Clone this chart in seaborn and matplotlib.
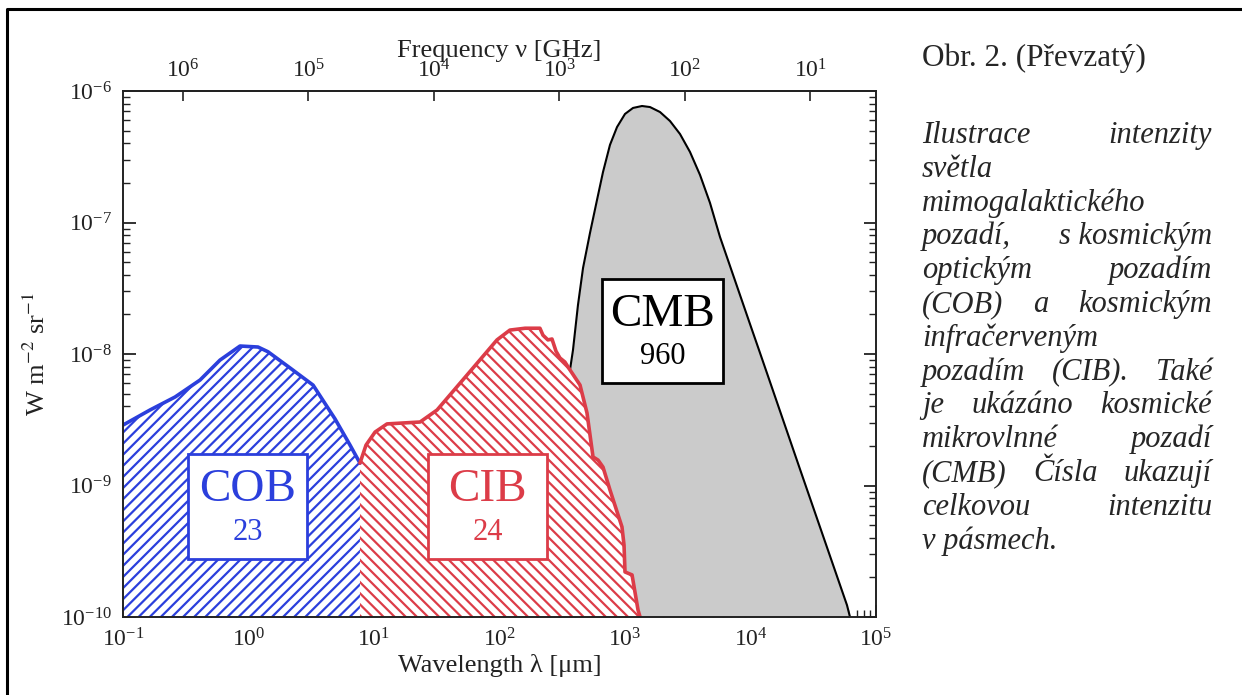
import numpy as np
import pandas as pd
import matplotlib
matplotlib.use("Agg")
import matplotlib.pyplot as plt
import seaborn as sns
from matplotlib.patches import Rectangle
from matplotlib.lines import Line2D
from matplotlib.ticker import NullLocator, LogLocator, FixedLocator

# ---------------- data ----------------
cob_wavelength = [0.1, 0.164, 0.26, 0.411, 0.593, 0.856, 1.19, 1.43, 2.14, 3.27, 4.89, 6.44, 7.73]
cob_intensity = [2.88e-9, 3.75e-9, 4.71e-9, 6.34e-9, 8.99e-9, 1.15e-8, 1.13e-8, 1.04e-8,
                 7.84e-9, 5.80e-9, 3.21e-9, 2.03e-9, 1.48e-9]

cib_wavelength = [7.73, 8.64, 10.2, 12.7, 23.3, 31.8, 55.1, 95.5, 121, 160, 210, 222, 243,
                  262, 282, 303, 332, 365, 438, 498, 556, 610, 668, 759, 946, 982, 1000,
                  1138, 1270, 1318]
cib_intensity = [1.48e-9, 2.03e-9, 2.55e-9, 2.94e-9, 3.04e-9, 3.75e-9, 6.92e-9, 1.28e-8,
                 1.52e-8, 1.57e-8, 1.57e-8, 1.39e-8, 1.28e-8, 1.30e-8, 1.05e-8, 9.33e-9,
                 8.69e-9, 7.55e-9, 5.81e-9, 3.56e-9, 1.65e-9, 1.56e-9, 1.38e-9, 9.25e-10,
                 4.84e-10, 3.53e-10, 2.2e-10, 2.09e-10, 1.13e-10, 1.0e-10]

cmb_wavelength = [245, 270, 300, 330, 360, 385, 422, 463, 526, 598, 668, 759, 864, 1000,
                  1158, 1366, 1582, 1901, 2284, 2743, 3295, 3960, 4756, 5715, 6866, 8248,
                  9909, 11904, 14305, 24798, 42998, 58739, 62056]
cmb_intensity = [1.0e-10, 4.0e-10, 1.4e-9, 3.5e-9, 7.0e-9, 1.07e-8, 2.36e-8, 4.51e-8,
                 8.32e-8, 1.48e-7, 2.42e-7, 3.89e-7, 5.32e-7, 6.69e-7, 7.43e-7, 7.69e-7,
                 7.55e-7, 6.92e-7, 5.91e-7, 4.71e-7, 3.44e-7, 2.30e-7, 1.41e-7, 7.76e-8,
                 4.67e-8, 2.81e-8, 1.69e-8, 1.02e-8, 6.13e-9, 1.33e-9, 2.91e-10,
                 1.23e-10, 1.0e-10]

band_names = ["COB", "CIB", "CMB"]
band_totals = ["23", "24", "960"]

wavelength_ticks = [1e-1, 1e0, 1e1, 1e2, 1e3, 1e4, 1e5]
intensity_ticks = [1e-10, 1e-9, 1e-8, 1e-7, 1e-6]
freq_ticks = [1e1, 1e2, 1e3, 1e4, 1e5, 1e6]

caption_title = "Obr. 2. (Převzatý)"
caption_lines = [
    (["Ilustrace", "intenzity"], True),
    (["světla"], False),
    (["mimogalaktického"], False),
    (["pozadí,", "s\u00a0kosmickým"], True),
    (["optickým", "pozadím"], True),
    (["(COB)", "a", "kosmickým"], True),
    (["infračerveným"], False),
    (["pozadím", "(CIB).", "Také"], True),
    (["je", "ukázáno", "kosmické"], True),
    (["mikrovlnné", "pozadí"], True),
    (["(CMB)", "Čísla", "ukazují"], True),
    (["celkovou", "intenzitu"], True),
    (["v\u00a0pásmech."], False),
]

# ---------------- style ----------------
sns.set_style("ticks")
plt.rcParams["font.family"] = ["Liberation Serif", "DejaVu Serif"]
plt.rcParams["mathtext.fontset"] = "stix"
plt.rcParams["hatch.linewidth"] = 1.6

BLUE = "#2b3fdc"
RED = "#dc3c48"
GRAY = "#cbcbcb"
INK = "#222222"

W, H = 1242, 695
fig = plt.figure(figsize=(W / 100, H / 100), dpi=100)
ax = fig.add_axes([123 / W, 1 - 617 / H, 753 / W, 526 / H])
ax.set_xscale("log")
ax.set_yscale("log")
ax.set_xlim(1e-1, 1e5)
ax.set_ylim(1e-10, 1e-6)

df_cob = pd.DataFrame({"lam": cob_wavelength, "I": cob_intensity})
df_cib = pd.DataFrame({"lam": cib_wavelength, "I": cib_intensity})
df_cmb = pd.DataFrame({"lam": cmb_wavelength, "I": cmb_intensity})

# CMB: grey filled
ax.fill_between(df_cmb["lam"], df_cmb["I"], 1e-10, facecolor=GRAY, lw=0, zorder=1)
sns.lineplot(data=df_cmb, x="lam", y="I", color="black", lw=1.5, ax=ax, zorder=2)

# COB: blue hatch
ax.fill_between(df_cob["lam"], df_cob["I"], 1e-10, facecolor="white", edgecolor=BLUE,
                hatch="///", lw=0, zorder=3)
sns.lineplot(data=df_cob, x="lam", y="I", color=BLUE, lw=2.6, ax=ax, zorder=4)

# CIB: red hatch
ax.fill_between(df_cib["lam"], df_cib["I"], 1e-10, facecolor="white", edgecolor=RED,
                hatch="\\\\\\", lw=0, zorder=3)
sns.lineplot(data=df_cib, x="lam", y="I", color=RED, lw=2.6, ax=ax, zorder=4)

ax.set_xlim(1e-1, 1e5)
ax.set_ylim(1e-10, 1e-6)

# boxes with labels
boxes = [
    ((188 - 123) / 753, (617 - 559) / 526, 119 / 753, 105 / 526, BLUE),
    ((428 - 123) / 753, (617 - 559) / 526, 119 / 753, 105 / 526, RED),
    ((602 - 123) / 753, (617 - 383) / 526, 121 / 753, 104 / 526, "black"),
]
for (x0, y0, bw, bh, col), name, tot in zip(boxes, band_names, band_totals):
    ax.add_patch(Rectangle((x0, y0), bw, bh, transform=ax.transAxes, facecolor="white",
                           edgecolor=col, lw=2.0, zorder=6))
    ax.text(x0 + bw / 2, y0 + bh * 0.66, name, transform=ax.transAxes, ha="center",
            va="center", fontsize=34, color=col, zorder=7)
    ax.text(x0 + bw / 2, y0 + bh * 0.25, tot, transform=ax.transAxes, ha="center",
            va="center", fontsize=22, color=col, zorder=7)

# axes cosmetics
for s in ax.spines.values():
    s.set_linewidth(1.4)
    s.set_color(INK)
    s.set_zorder(10)
ax.xaxis.set_major_locator(FixedLocator(wavelength_ticks))
ax.yaxis.set_major_locator(FixedLocator(intensity_ticks))
ax.yaxis.set_minor_locator(LogLocator(base=10, subs=np.arange(2, 10), numticks=20))
ax.xaxis.set_minor_locator(LogLocator(base=10, subs=np.arange(2, 10), numticks=20))
ax.tick_params(which="both", direction="in", top=False, right=True, labelsize=17,
               colors=INK)
ax.tick_params(which="major", length=9, width=1.3, pad=8)
ax.tick_params(which="minor", length=5, width=1.0, labelbottom=False, labelleft=False)
ax.set_xlabel("Wavelength λ [μm]", fontsize=19, labelpad=2, color=INK)
ax.set_ylabel("W m$^{-2}$ sr$^{-1}$", fontsize=19, labelpad=8, color=INK)


def lam2nu(x):
    x = np.asarray(x, dtype=float)
    with np.errstate(divide="ignore", invalid="ignore"):
        return 3e5 / x


secax = ax.secondary_xaxis("top", functions=(lam2nu, lam2nu))
secax.xaxis.set_major_locator(FixedLocator(freq_ticks))
secax.xaxis.set_minor_locator(NullLocator())
secax.tick_params(which="major", direction="in", length=7, width=1.2, labelsize=17,
                  colors=INK, pad=6)
secax.spines["top"].set_linewidth(1.4)
secax.set_xlabel("Frequency ν [GHz]", fontsize=19, labelpad=2, color=INK)

# outer frame (cropped border)
fig.add_artist(Line2D([7 / W, 7 / W, 1.0], [0.0, 1 - 9 / H, 1 - 9 / H],
                      transform=fig.transFigure, color="black", lw=2.2))

# caption
L, R = 922, 1212
fig.text(L / W, 1 - 66 / H, caption_title, fontsize=22.5, ha="left", va="baseline",
         family="Liberation Serif")
renderer = fig.canvas.get_renderer()
for k, (words, justify) in enumerate(caption_lines):
    yb = 1 - (143 + 33.8 * k) / H
    texts = [fig.text(L / W, yb, w, fontsize=22, style="italic", ha="left",
                      va="baseline", family="Liberation Serif") for w in words]
    if justify and len(texts) > 1:
        widths = [t.get_window_extent(renderer).width for t in texts]
        gap = (R - L - sum(widths)) / (len(texts) - 1)
        x = L
        for t, wd in zip(texts, widths):
            t.set_x(x / W)
            x += wd + gap
    else:
        sp = 7
        x = L
        for t in texts:
            t.set_x(x / W)
            x += t.get_window_extent(renderer).width + sp

fig.savefig("out.png", dpi=100)
